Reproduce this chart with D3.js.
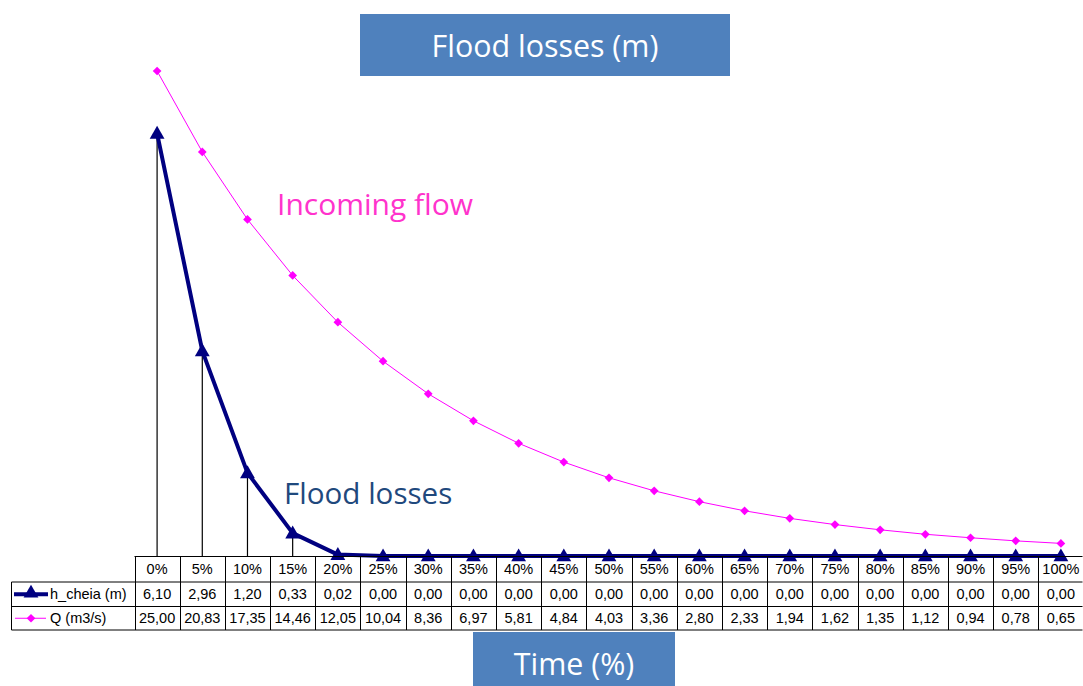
<!DOCTYPE html>
<html>
<head>
<meta charset="utf-8">
<script src="https://cdn.jsdelivr.net/npm/d3@7"></script>
<style>
  html, body { margin: 0; padding: 0; background: #fff; }
  svg { display: block; }
</style>
</head>
<body>
<svg id="chart" width="1083" height="686"></svg>
<script>
// Time steps (category axis) and the two series
const timeSteps = ["0%","5%","10%","15%","20%","25%","30%","35%","40%","45%","50%","55%","60%","65%","70%","75%","80%","85%","90%","95%","100%"];
const hCheia = [6.10,2.96,1.20,0.33,0.02,0.00,0.00,0.00,0.00,0.00,0.00,0.00,0.00,0.00,0.00,0.00,0.00,0.00,0.00,0.00,0.00];
const qFlow  = [25.00,20.83,17.35,14.46,12.05,10.04,8.36,6.97,5.81,4.84,4.03,3.36,2.80,2.33,1.94,1.62,1.35,1.12,0.94,0.78,0.65];
const seriesNames = ["h_cheia (m)", "Q (m3/s)"];
const hDomain = [0, 7];
const qDomain = [0, 25];

const svg = d3.select("#chart");
const fmt = v => d3.format(".2f")(v).replace(".", ",");

const plotTop = 71, plotBottom = 556;
const x = d3.scaleBand().domain(timeSteps).range([134.5, 1083.5]).padding(0);
const cx = d => x(d) + x.bandwidth() / 2;
const yH = d3.scaleLinear().domain(hDomain).range([plotBottom, plotTop]);
const yQ = d3.scaleLinear().domain(qDomain).range([plotBottom, plotTop]);

const navy = "#000080", magenta = "#FF00FF";
const tri = d3.symbol().type(d3.symbolTriangle).size(95);
// square diamond marker (rotated square)
const dia = d3.symbol().type(d3.symbolSquare).size(38);

// Drop lines from the h_cheia points down to the category axis
svg.append("g").selectAll("line").data(timeSteps).join("line")
  .attr("x1", d => cx(d)).attr("x2", d => cx(d))
  .attr("y1", (d, i) => yH(hCheia[i])).attr("y2", plotBottom)
  .attr("stroke", "#000").attr("stroke-width", 1.2);

// Q series
svg.append("path")
  .datum(qFlow)
  .attr("fill", "none").attr("stroke", magenta).attr("stroke-width", 1)
  .attr("d", d3.line().x((d, i) => cx(timeSteps[i])).y(d => yQ(d)));
svg.append("g").selectAll("path").data(qFlow).join("path")
  .attr("d", dia)
  .attr("transform", (d, i) => `translate(${cx(timeSteps[i])},${yQ(d)}) rotate(45)`)
  .attr("fill", magenta);

// h_cheia series
svg.append("path")
  .datum(hCheia)
  .attr("fill", "none").attr("stroke", navy).attr("stroke-width", 4)
  .attr("stroke-linejoin", "round")
  .attr("d", d3.line().x((d, i) => cx(timeSteps[i])).y(d => yH(d)));
svg.append("g").selectAll("path").data(hCheia).join("path")
  .attr("d", tri)
  .attr("transform", (d, i) => `translate(${cx(timeSteps[i])},${yH(d) + 1})`)
  .attr("fill", navy);

// Data table under the plot
const rowH = [plotBottom, 582, 606.5, 630];
const legendLeft = 11.5;
const table = svg.append("g").attr("font-family", "Liberation Sans, Arial, sans-serif")
  .attr("font-size", 14.5).attr("fill", "#000");
const gridColor = "#000";
const xLeft = x.range()[0], xRight = x.range()[1] - 1;

// horizontal rules
table.append("line").attr("x1", xLeft).attr("x2", xRight).attr("y1", rowH[0] + 0.5).attr("y2", rowH[0] + 0.5)
  .attr("stroke", gridColor).attr("stroke-width", 1.2);
[rowH[1], rowH[2], rowH[3]].forEach(yy => {
  table.append("line").attr("x1", legendLeft).attr("x2", xRight).attr("y1", yy).attr("y2", yy)
    .attr("stroke", gridColor).attr("stroke-width", 1);
});
// vertical rules
const edges = timeSteps.map(d => x(d)).concat([x.range()[1] - 1]);
table.selectAll("line.v").data(edges).join("line").attr("class", "v")
  .attr("x1", d => Math.round(d) + 0.5).attr("x2", d => Math.round(d) + 0.5)
  .attr("y1", rowH[0]).attr("y2", rowH[3])
  .attr("stroke", gridColor).attr("stroke-width", 1);
table.append("line").attr("x1", legendLeft).attr("x2", legendLeft).attr("y1", rowH[1]).attr("y2", rowH[3])
  .attr("stroke", gridColor).attr("stroke-width", 1);

// header row: categories
table.selectAll("text.cat").data(timeSteps).join("text").attr("class", "cat")
  .attr("x", d => cx(d)).attr("y", (rowH[0] + rowH[1]) / 2 + 5)
  .attr("text-anchor", "middle").text(d => d);
// value rows
[hCheia, qFlow].forEach((arr, r) => {
  table.append("g").selectAll("text").data(arr).join("text")
    .attr("x", (d, i) => cx(timeSteps[i]))
    .attr("y", (rowH[r + 1] + rowH[r + 2]) / 2 + 5)
    .attr("text-anchor", "middle").text(d => fmt(d));
});
// legend keys in the table
const keyY = [(rowH[1] + rowH[2]) / 2, (rowH[2] + rowH[3]) / 2];
table.append("line").attr("x1", 14).attr("x2", 48).attr("y1", keyY[0]).attr("y2", keyY[0])
  .attr("stroke", navy).attr("stroke-width", 4);
table.append("path").attr("d", tri).attr("transform", `translate(31,${keyY[0] - 1})`).attr("fill", navy);
table.append("line").attr("x1", 15).attr("x2", 46).attr("y1", keyY[1]).attr("y2", keyY[1])
  .attr("stroke", magenta).attr("stroke-width", 1);
table.append("path").attr("d", dia).attr("transform", `translate(31,${keyY[1]}) rotate(45)`).attr("fill", magenta);
table.selectAll("text.key").data(seriesNames).join("text").attr("class", "key")
  .attr("x", 50).attr("y", (d, i) => keyY[i] + 5).text(d => d);

// Title boxes
const boxFont = "'Open Sans', 'Noto Sans', sans-serif";
function labelBox(x0, y0, w, h, text, size, baseline) {
  svg.append("rect").attr("x", x0).attr("y", y0).attr("width", w).attr("height", h).attr("fill", "#4F81BD");
  svg.append("text").attr("x", x0 + w / 2).attr("y", baseline)
    .attr("text-anchor", "middle").attr("font-family", boxFont).attr("font-size", size)
    .attr("fill", "#fff").text(text);
}
labelBox(360, 14, 370, 62, "Flood losses (m)", 30.4, 57);
labelBox(473, 632, 202, 54, "Time (%)", 30.4, 675);

// Series annotations
svg.append("text").attr("x", 277).attr("y", 215).attr("font-family", boxFont).attr("font-size", 30)
  .attr("fill", "#FF33CC").text("Incoming flow");
svg.append("text").attr("x", 284).attr("y", 504).attr("font-family", boxFont).attr("font-size", 29.6)
  .attr("fill", "#1F497D").text("Flood losses");
</script>
</body>
</html>
